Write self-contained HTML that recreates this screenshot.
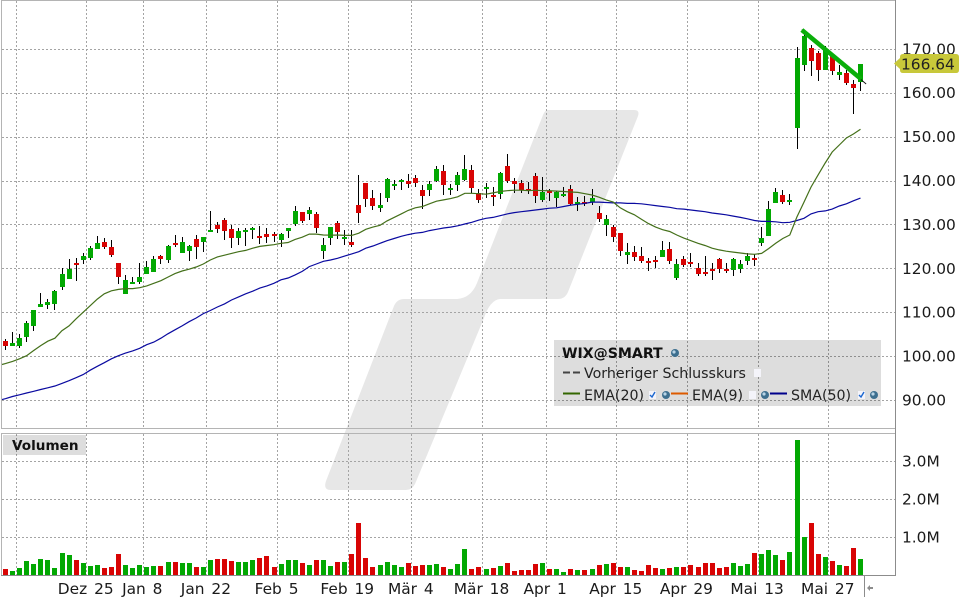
<!DOCTYPE html>
<html lang="de">
<head>
<meta charset="utf-8">
<title>WIX@SMART Chart</title>
<style>
  html, body { margin: 0; padding: 0; background: #fff; }
  body { width: 960px; height: 600px; overflow: hidden; }
  svg { display: block; }
  text { font-family: "DejaVu Sans", "Liberation Sans", sans-serif; fill: #1a1a1a; }
  .axis-label { font-size: 15.4px; }
  .legend-label { font-size: 14.2px; fill: #222; }
  .bold-label { font-weight: bold; font-size: 14.1px; fill: #111; }
</style>
</head>
<body>
<svg id="chart" xmlns="http://www.w3.org/2000/svg" width="960" height="600" viewBox="0 0 960 600">
  <rect x="0" y="0" width="960" height="600" fill="#ffffff"/>
  <path fill="#e7e7e7" d="M548,110 L634,110 Q640,110 638,116 L568,292 Q565,299 558,299 L500,299 Q490,300 484,318 L415,484 Q412,490 406,490 L331,490 Q323,490 326,481 L394,306 Q397,299 404,299 L457,299 Q471,298 477,283 L543,115 Q545,110 548,110 Z"/>
  <g id="grid"></g>
  <g id="candles"></g>
  <g id="volumes"></g>
  <path id="sma-line" fill="none" stroke="#0a0aa0" stroke-width="1.2"/>
  <path id="ema-line" fill="none" stroke="#44701a" stroke-width="1.2"/>
  <line id="trend-black" stroke="#111" stroke-width="0.9"/>
  <line id="trend-green" stroke="#0aae0a" stroke-width="4.6"/>

  <g shape-rendering="crispEdges">
    <line x1="1" y1="0.5" x2="896" y2="0.5" stroke="#b4b4b4"/>
    <line x1="1" y1="428.5" x2="896" y2="428.5" stroke="#b4b4b4"/>
    <line x1="1" y1="433.5" x2="896" y2="433.5" stroke="#b4b4b4"/>
    <line x1="1.5" y1="0" x2="1.5" y2="429" stroke="#b4b4b4"/>
    <line x1="1.5" y1="433" x2="1.5" y2="576" stroke="#b4b4b4"/>
    <line x1="895.5" y1="0" x2="895.5" y2="576" stroke="#8c8c8c"/>
    <line x1="1" y1="575.5" x2="896" y2="575.5" stroke="#8c8c8c"/>
    <line x1="864.5" y1="575" x2="864.5" y2="597" stroke="#8c8c8c"/>
  </g>
  <polygon points="867,588 870,585 870,587 873,587 873,589 870,589 870,591" fill="#8c8c8c"/>

  <g id="axis-labels"></g>

  <g>
    <path fill="#c8c83a" d="M894,63.5 L900,58 L900,57 Q900,54 903,54 L956,54 Q959,54 959,57 L959,70 Q959,73 956,73 L903,73 Q900,73 900,70 L900,69 Z"/>
    <text id="last-price" class="axis-label" x="901" y="69.5" style="fill:#222">166.64</text>
  </g>

  <g>
    <rect x="3" y="435" width="83" height="20" fill="#000" fill-opacity="0.135"/>
    <text class="bold-label" x="12" y="450" style="font-size:13.6px">Volumen</text>
  </g>

  <g>
    <rect x="554" y="340" width="327" height="66" fill="#000" fill-opacity="0.135"/>
    <text class="bold-label" x="562" y="358">WIX@SMART</text>
    <g><circle cx="675" cy="353" r="4" fill="#3d6f8f"/><circle cx="674" cy="352" r="1.6" fill="#b9d4e6"/></g>

    <line x1="563" y1="372.5" x2="580" y2="372.5" stroke="#444" stroke-width="2" stroke-dasharray="7 3"/>
    <text class="legend-label" x="584" y="378">Vorheriger Schlusskurs</text>
    <rect x="754" y="369" width="7" height="8" fill="#f4f4fa"/>

    <line x1="563" y1="393.5" x2="580" y2="393.5" stroke="#336600" stroke-width="2"/>
    <text class="legend-label" x="584" y="400">EMA(20)</text>
    <rect x="649" y="391" width="7" height="8" fill="#f4f4fa"/>
    <path d="M650,395 L652,397 L655,392" fill="none" stroke="#1a66d0" stroke-width="1.4"/>
    <g><circle cx="666" cy="395" r="4" fill="#3d6f8f"/><circle cx="665" cy="394" r="1.6" fill="#b9d4e6"/></g>

    <line x1="671" y1="393.5" x2="688" y2="393.5" stroke="#dd5a00" stroke-width="2"/>
    <text class="legend-label" x="692" y="400">EMA(9)</text>
    <rect x="749" y="391" width="7" height="8" fill="#f4f4fa"/>
    <g><circle cx="765" cy="395" r="4" fill="#3d6f8f"/><circle cx="764" cy="394" r="1.6" fill="#b9d4e6"/></g>

    <line x1="770" y1="393.5" x2="787" y2="393.5" stroke="#00008c" stroke-width="2"/>
    <text class="legend-label" x="791" y="400">SMA(50)</text>
    <rect x="858" y="391" width="7" height="8" fill="#f4f4fa"/>
    <path d="M859,395 L861,397 L864,392" fill="none" stroke="#1a66d0" stroke-width="1.4"/>
    <g><circle cx="874" cy="395" r="4" fill="#3d6f8f"/><circle cx="873" cy="394" r="1.6" fill="#b9d4e6"/></g>
  </g>
</svg>

<script>
const opens = [103.6,102.5,102.5,104.5,107,111.4,111.8,112,115.9,117.7,121.4,122,122.5,124.5,126.1,125,121.4,114.3,116.6,117,118.9,119.3,123,122,125.9,123.6,124.1,126.8,126.1,128.4,130,131.1,129.1,127,128.4,128.9,127.5,128,128,126.6,128.6,130.2,133,132.5,132.5,124.1,127,130.4,126.8,126.1,134.5,139.5,136.1,133.9,136.1,138.9,139.8,140,140.7,138,138,140,142.3,138,139.1,140.2,142.5,137.3,138.2,136.8,137,143.4,140,139.5,138.2,141.1,135.7,137.7,136.1,136.6,138.2,134.8,135.2,135.2,132.7,130,129.5,128.2,123.2,123.9,122.9,121.8,122,122.7,124.5,118,122.3,121.6,120.2,119.3,120,122.3,120,119.8,120,121.8,122.5,125.9,127.5,135,136.8,135.2,152,166.4,170.2,169.1,165.2,168.4,164.1,164.5,162,162.5];
const highs = [104.1,105.5,105.2,108,110.7,114.5,113.2,115.2,120.2,122.3,122.5,123.6,125.2,127.5,127,126.6,121.4,118.6,118.2,121.4,121.8,123,123.2,125.5,127.7,127.3,125.5,127.7,127.3,133.2,130.7,131.6,130,129.3,129.3,129.5,129.8,129.3,128.4,128.2,129.3,134.3,133,134.1,133,127,129.5,130.9,128.9,128.9,141.4,139.5,138,137.3,140.7,140.2,140.5,141.6,141.4,139.1,140,143.4,143.6,139.3,142,145.9,143.6,138.2,139.5,138.6,142,146.1,140.7,140.2,139.8,141.8,140.9,138.2,137.7,138.6,139.1,136.4,136.6,138.2,134.3,132.3,130,128.2,125.9,125.2,125,122.5,122.9,126.4,126.1,122.3,122.9,123.6,121.4,123,121.4,122.5,121.4,122.5,122,123.6,123.4,129.5,135.5,138.4,138,137,170.5,173.4,170.9,169.5,170.7,168.9,166.4,165.2,163,166.64];
const lows = [101.6,102.5,102,103.4,105.9,111.4,110.9,110.7,115.2,117.7,117.3,121.1,122,124.5,124.5,122.7,116.6,114.3,116.6,116.6,118.9,119.3,121.1,121.4,125,123.6,121.8,122.3,123.9,128.4,128.2,126.6,124.8,125.5,125.2,126.8,125.7,125.9,126.1,125,127,129.8,130.5,131.1,128.2,122.3,125.5,126.8,125.5,125,130.5,134.1,133.4,133,135.2,138,138,138.4,138.6,133.6,136.6,139.8,136.8,136.8,137.7,140,137.3,135,136.1,134.3,135.9,139.5,137.3,137.3,137,135,135.2,135.5,134.1,136.4,134.5,133.2,134.3,134.5,130.7,127.5,126.1,123,121.1,121.8,121.4,119.5,120.2,122.7,121.1,117.5,120.5,120.5,118.4,118.4,117.5,119.1,119.1,118.4,119.1,120.9,120.7,125.2,127.5,135,134.8,134.6,147.3,165,163.9,162.7,165.2,164.1,163,161.8,155.2,160.5];
const closes = [102.5,103.2,104.3,107.7,110.7,112,112.5,115,118.9,120,120.9,123,124.8,125.9,125,123.2,118.2,117.5,117,118.2,120.5,122.3,122.3,125.2,125.5,126.1,125.2,125,127.3,128.9,129.1,128.6,127,128.6,128.9,129.3,127,127.3,127.5,128,129.3,133.2,130.9,133.4,129.3,125.4,129.5,128.4,127.3,125.4,132.7,135.9,134.3,134.5,140.5,139.3,140.2,139.3,139.5,136.6,139.3,142.7,139.1,138.4,141.4,142.7,138.4,135.7,138.6,136.4,141.8,140,139.3,138,137.7,136.6,137.5,137.3,137.5,137,134.8,135.2,134.8,136.1,131.4,131.4,127.3,124.1,123.9,122.7,121.8,121.4,121.6,124.3,121.8,121.1,120.9,121.1,118.9,118.9,119.6,120,119.6,122.3,121.1,122.9,122,127,133.6,137.5,135.2,135.7,168,173,167.3,165.2,170,165,164.8,162.3,161.1,166.64];
const volumesM = [0.17,0.11,0.19,0.38,0.30,0.43,0.40,0.19,0.59,0.54,0.40,0.32,0.25,0.27,0.19,0.22,0.56,0.27,0.19,0.27,0.22,0.25,0.25,0.35,0.35,0.32,0.32,0.22,0.22,0.40,0.43,0.43,0.38,0.35,0.35,0.40,0.46,0.51,0.22,0.30,0.40,0.40,0.32,0.27,0.40,0.40,0.25,0.35,0.35,0.56,1.38,0.46,0.22,0.27,0.35,0.27,0.22,0.32,0.25,0.27,0.27,0.30,0.22,0.17,0.30,0.69,0.17,0.22,0.17,0.19,0.25,0.32,0.11,0.14,0.14,0.30,0.32,0.17,0.17,0.09,0.17,0.14,0.14,0.17,0.27,0.30,0.32,0.22,0.22,0.14,0.11,0.27,0.19,0.17,0.19,0.22,0.22,0.27,0.22,0.32,0.32,0.19,0.22,0.32,0.25,0.30,0.59,0.56,0.67,0.54,0.40,0.61,3.56,1.01,1.38,0.56,0.48,0.38,0.27,0.25,0.72,0.43];
const ema20 = [98.4,98.9,99.5,100.2,101.4,102.5,103.5,104.2,105.9,107,108.6,110.1,111.6,113.1,114.3,115,115.3,115.5,115.5,115.7,116.1,116.7,117.3,118.1,118.9,119.5,119.9,120.4,121.1,122,122.7,123.1,123.5,123.9,124.2,124.7,125.1,125.3,125.5,125.8,126,126.7,127.2,127.9,127.9,127.7,127.65,127.7,127.6,127.6,128.1,129,129.5,129.9,130.9,131.7,132.5,133.3,133.9,134.2,134.8,135.4,135.7,136,136.4,137.2,137.2,137.1,137,137.3,137.6,137.8,137.9,137.9,137.8,137.9,137.8,137.8,137.7,137.6,137.5,137.4,137.1,136.8,136.3,135.7,135.2,133.9,133,132.3,131.3,130.3,129.5,128.9,128.5,127.7,127,126.4,125.8,125.3,124.7,124.3,124,123.8,123.6,123.4,123.3,123.5,124.6,125.8,126.9,127.7,131.8,135.2,138.6,141.4,144.1,146.6,148.2,149.8,150.7,151.8];
const sma50 = [90.4,90.9,91.3,91.7,92.1,92.5,92.9,93.3,93.9,94.5,95.2,95.9,96.9,97.8,98.6,99.5,100.2,100.8,101.3,101.9,102.7,103.3,104.2,105.2,106.1,107,107.96,108.8,109.8,110.5,111.3,112,112.9,113.6,114.3,114.9,115.6,116.1,116.7,117.5,117.9,118.6,119.4,120.5,121.1,121.7,122,122.4,122.9,123.4,123.9,124.7,125.2,125.8,126.4,126.9,127.4,127.8,128.1,128.3,128.7,129,129.3,129.5,129.8,130.2,130.6,131.1,131.5,131.7,132.1,132.5,132.8,133,133.2,133.4,133.6,133.8,133.9,134.2,134.5,134.7,134.9,135.2,135.2,135.1,135,135,134.9,134.9,134.8,134.6,134.4,134.2,134,133.7,133.6,133.4,133.2,133,132.7,132.5,132.3,132,131.7,131.4,131,130.8,130.8,130.7,130.5,130.6,131,131.5,132.5,133,133.2,133.6,134.3,134.8,135.5,136.1];
const ema20Prior = 98.2;
const sma50Prior = 90.2;
const priceTicks = [170,160,150,140,130,120,110,100,90];
const volumeTicks = [3,2,1];
const dateLabels = ["","Dez 25","Jan 8","Jan 22","Feb 5","Feb 19","Mär 4","Mär 18","Apr 1","Apr 15","Apr 29","Mai 13","Mai 27"];
const dateFirstSession = [2,12,20,29,39,49,58,68,77,87,97,107,117];
const trendSessions = [112.7,121.8];
const trendPrices = [174.5,162.1];
const highlightSessions = [112.7,121.1];
const highlightPrices = [174.4,163.2];

const NS = "http://www.w3.org/2000/svg";
const xCenter = i => 5.4 + 7.067 * i;
const bodyLeft = i => Math.round(3 + 7.067 * i);
const yPrice = v => 49.3 + (170 - v) * 4.39;
const yVolume = m => 575.3 - m * 38;
const make = (parent, tag) => { const e = document.createElementNS(NS, tag); parent.appendChild(e); return e; };
const setAll = (e, o) => { for (const k in o) e.setAttribute(k, o[k]); };

const grid = document.getElementById("grid");
const gridStyle = { stroke: "#a4a4a4", "stroke-dasharray": "2 2", "shape-rendering": "crispEdges" };
priceTicks.forEach(v => {
  const row = Math.floor(yPrice(v)) + 0.5;
  const l = make(grid, "line");
  
  
  setAll(l, Object.assign({ x1: 2, x2: 898, y1: row, y2: row }, gridStyle));
});
volumeTicks.forEach(v => {
  const row = Math.floor(yVolume(v)) + 0.5;
  const l = make(grid, "line");
  
  
  setAll(l, Object.assign({ x1: 2, x2: 898, y1: row, y2: row }, gridStyle));
});
dateFirstSession.forEach(s => {
  const col = Math.round(xCenter(s - 0.56)) + 0.5;
  const a = make(grid, "line");
  
  
  setAll(a, Object.assign({ x1: col, x2: col, y1: 1, y2: 428 }, gridStyle));
  const b = make(grid, "line");
  
  
  setAll(b, Object.assign({ x1: col, x2: col, y1: 434, y2: 578 }, gridStyle));
});

const GREEN = "#02a802", RED = "#d80404";
const candles = document.getElementById("candles");
opens.forEach((o, i) => {
  const c = closes[i], up = c >= o, left = bodyLeft(i);
  const g = make(candles, "g");
  
  
  const top = Math.round(yPrice(Math.max(o, c)));
  const bot = Math.round(yPrice(Math.min(o, c)));
  const w = make(g, "rect");
  
  
  const wt = Math.round(yPrice(highs[i])), wb = Math.round(yPrice(lows[i]));
  setAll(w, { x: left + 2, y: wt, width: 1, height: Math.max(1, wb - wt), fill: "#000", "shape-rendering": "crispEdges" });
  const b = make(g, "rect");
  
  
  setAll(b, { x: left, y: top, width: 5, height: Math.max(2, bot - top), fill: up ? GREEN : RED, "shape-rendering": "crispEdges" });
});

const vols = document.getElementById("volumes");
volumesM.forEach((m, i) => {
  const r = make(vols, "rect");
  
  
  const t = Math.round(yVolume(m));
  setAll(r, { x: bodyLeft(i), y: t, width: 5, height: 575 - t, fill: closes[i] >= opens[i] ? GREEN : RED, "shape-rendering": "crispEdges" });
});

const linePath = (arr, prior) => "M2," + yPrice(prior).toFixed(1) + arr.map((v, i) => " L" + xCenter(i).toFixed(1) + "," + yPrice(v).toFixed(1)).join("");
document.getElementById("ema-line").setAttribute("d", linePath(ema20, ema20Prior));
document.getElementById("sma-line").setAttribute("d", linePath(sma50, sma50Prior));

setAll(document.getElementById("trend-black"), {
  x1: xCenter(trendSessions[0]),
  y1: yPrice(trendPrices[0]),
  x2: xCenter(trendSessions[1]),
  y2: yPrice(trendPrices[1])
});
setAll(document.getElementById("trend-green"), {
  x1: xCenter(highlightSessions[0]),
  y1: yPrice(highlightPrices[0]),
  x2: xCenter(highlightSessions[1]),
  y2: yPrice(highlightPrices[1])
});

const labels = document.getElementById("axis-labels");
priceTicks.forEach(v => {
  const t = make(labels, "text");
  
  
  setAll(t, { x: 902, y: yPrice(v) + 5, class: "axis-label" });
  t.textContent = v.toFixed(2);
});
volumeTicks.forEach(v => {
  const t = make(labels, "text");
  
  
  setAll(t, { x: 902, y: yVolume(v) + 5, class: "axis-label" });
  t.textContent = v.toFixed(1) + "M";
});
dateLabels.forEach((d, k) => {
  if (!d) return;
  const t = make(labels, "text");
  
  
  setAll(t, { x: xCenter(dateFirstSession[k] - 0.56) - 0.5, y: 594, "text-anchor": "middle", class: "axis-label" });
  t.setAttribute("style", "word-spacing:2px");
  t.textContent = d;
});

document.getElementById("last-price").textContent = closes[closes.length - 1].toFixed(2);
</script>
</body>
</html>
